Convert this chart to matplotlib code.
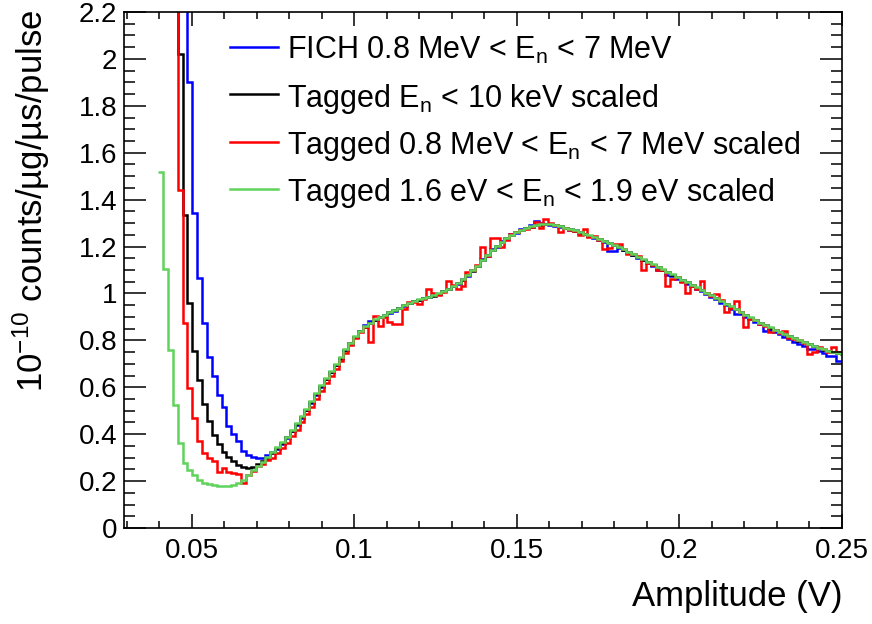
import numpy as np
import matplotlib
matplotlib.use('Agg')
import matplotlib.pyplot as plt
from matplotlib.ticker import MultipleLocator, FuncFormatter

# binning of the amplitude histograms (V)
bin_width = 0.0015
green_first_edge = 0.0397
tagged_first_edge = 0.0442

# FICH 0.8 MeV < En < 7 MeV
fich_fast = [3.5, 3.0, 2.5, 1.90, 1.343, 1.066, 0.872, 0.731, 0.649, 0.568,
             0.514, 0.436, 0.400, 0.372, 0.329, 0.312, 0.302, 0.298, 0.298, 0.310,
             0.325,
             0.338, 0.360, 0.384, 0.412, 0.441, 0.470,
             0.502, 0.534, 0.568, 0.602, 0.634, 0.664, 0.694, 0.722, 0.757, 0.786,
             0.815, 0.840, 0.866, 0.882, 0.885, 0.898, 0.905, 0.918, 0.926, 0.940,
             0.948, 0.958, 0.966, 0.972, 0.981, 0.985, 0.994, 0.998, 1.012, 1.018,
             1.032, 1.042, 1.062, 1.076, 1.100, 1.116, 1.145, 1.160, 1.188, 1.200,
             1.224, 1.234, 1.252, 1.258, 1.275, 1.278, 1.290, 1.310, 1.300, 1.298,
             1.290, 1.288, 1.283, 1.280, 1.272, 1.270, 1.258, 1.255, 1.244, 1.238,
             1.226, 1.220, 1.180, 1.180, 1.195, 1.185, 1.172, 1.165, 1.150, 1.142,
             1.130, 1.118, 1.100, 1.098, 1.078, 1.075, 1.062, 1.055, 1.040, 1.032,
             1.020, 1.010, 0.998, 0.985, 0.976, 0.960, 0.950, 0.935, 0.912, 0.912,
             0.900, 0.890, 0.878, 0.868, 0.841, 0.845, 0.835, 0.826, 0.815, 0.806,
             0.791, 0.786, 0.778, 0.763, 0.765, 0.755, 0.748, 0.734, 0.735, 0.713,
             0.713]

# Tagged En < 10 keV scaled
tagged_slow = [2.80, 2.02, 1.336, 0.959, 0.756, 0.631, 0.528, 0.457, 0.397, 0.358,
               0.322, 0.301, 0.284, 0.270, 0.261, 0.258, 0.262, 0.272, 0.284, 0.298,
               0.318,
               0.340, 0.361, 0.386, 0.414, 0.443, 0.473,
               0.505, 0.537, 0.571, 0.605, 0.637, 0.666, 0.696, 0.726, 0.759, 0.788,
               0.816, 0.840, 0.859, 0.874, 0.888, 0.899, 0.909, 0.919, 0.929, 0.939,
               0.949, 0.959, 0.967, 0.974, 0.980, 0.985, 0.991, 0.999, 1.009, 1.019,
               1.030, 1.044, 1.059, 1.077, 1.097, 1.117, 1.141, 1.162, 1.184, 1.203,
               1.220, 1.235, 1.249, 1.260, 1.270, 1.279, 1.285, 1.290, 1.293, 1.294,
               1.294, 1.290, 1.286, 1.280, 1.274, 1.268, 1.261, 1.254, 1.247, 1.239,
               1.231, 1.224, 1.216, 1.207, 1.197, 1.187, 1.177, 1.166, 1.155, 1.144,
               1.134, 1.123, 1.112, 1.102, 1.091, 1.080, 1.069, 1.058, 1.047, 1.036,
               1.025, 1.014, 1.003, 0.992, 0.980, 0.968, 0.956, 0.944, 0.932, 0.920,
               0.908, 0.897, 0.886, 0.875, 0.864, 0.854, 0.844, 0.835, 0.826, 0.817,
               0.808, 0.799, 0.791, 0.783, 0.775, 0.768, 0.761, 0.755, 0.750, 0.746,
               0.742]

# Tagged 0.8 MeV < En < 7 MeV scaled
tagged_fast = [2.70, 1.441, 0.876, 0.597, 0.471, 0.372, 0.318, 0.300, 0.285, 0.240,
               0.255, 0.240, 0.235, 0.230, 0.190, 0.225, 0.245, 0.265, 0.272, 0.290,
               0.300,
               0.320, 0.340, 0.362, 0.392, 0.420, 0.452,
               0.484, 0.515, 0.548, 0.585, 0.618, 0.648, 0.680, 0.712, 0.745, 0.780,
               0.810, 0.836, 0.855, 0.791, 0.905, 0.862, 0.898, 0.880, 0.870, 0.870,
               0.935, 0.962, 0.962, 0.955, 0.975, 1.019, 1.000, 0.995, 1.005, 1.054,
               1.035, 1.020, 1.030, 1.090, 1.100, 1.120, 1.200, 1.160, 1.235, 1.235,
               1.200, 1.230, 1.255, 1.260, 1.270, 1.275, 1.285, 1.303, 1.280, 1.317,
               1.300, 1.290, 1.260, 1.280, 1.270, 1.265, 1.250, 1.275, 1.240, 1.245,
               1.230, 1.190, 1.195, 1.210, 1.210, 1.190, 1.170, 1.170, 1.160, 1.100,
               1.130, 1.120, 1.100, 1.100, 1.030, 1.060, 1.070, 1.050, 1.000, 1.030,
               1.020, 1.054, 1.000, 0.990, 0.997, 0.970, 0.919, 0.940, 0.969, 0.920,
               0.855, 0.891, 0.885, 0.870, 0.860, 0.834, 0.845, 0.830, 0.840, 0.810,
               0.805, 0.800, 0.790, 0.742, 0.750, 0.770, 0.765, 0.750, 0.770, 0.750,
               0.745]

# Tagged 1.6 eV < En < 1.9 eV scaled
tagged_reso = [1.516, 1.104, 0.760, 0.524, 0.362, 0.277, 0.247, 0.226, 0.205, 0.194,
               0.187, 0.184, 0.181, 0.180, 0.180, 0.183, 0.191, 0.206, 0.227, 0.247,
               0.265, 0.282, 0.302, 0.325, 0.345, 0.365, 0.390, 0.418, 0.447, 0.476,
               0.508, 0.540, 0.574, 0.608, 0.640, 0.668, 0.698, 0.728, 0.762, 0.790,
               0.818, 0.842, 0.860, 0.876, 0.889, 0.900, 0.910, 0.920, 0.930, 0.940,
               0.950, 0.960, 0.968, 0.975, 0.980, 0.986, 0.992, 1.000, 1.010, 1.020,
               1.031, 1.045, 1.060, 1.078, 1.098, 1.118, 1.142, 1.163, 1.185, 1.204,
               1.221, 1.236, 1.250, 1.261, 1.271, 1.280, 1.286, 1.291, 1.294, 1.296,
               1.295, 1.291, 1.287, 1.281, 1.275, 1.269, 1.262, 1.255, 1.248, 1.240,
               1.232, 1.225, 1.217, 1.208, 1.198, 1.188, 1.178, 1.167, 1.156, 1.145,
               1.135, 1.124, 1.113, 1.103, 1.092, 1.081, 1.070, 1.059, 1.048, 1.037,
               1.026, 1.015, 1.004, 0.993, 0.981, 0.969, 0.957, 0.945, 0.933, 0.921,
               0.909, 0.898, 0.887, 0.876, 0.865, 0.855, 0.845, 0.836, 0.827, 0.818,
               0.809, 0.800, 0.792, 0.784, 0.776, 0.769, 0.762, 0.756, 0.751, 0.747,
               0.743]

labels = ['FICH 0.8 MeV < $E_n$ < 7 MeV',
          'Tagged $E_n$ < 10 keV scaled',
          'Tagged 0.8 MeV < $E_n$ < 7 MeV scaled',
          'Tagged 1.6 eV < $E_n$ < 1.9 eV scaled']
colors = ['#0000ff', '#000000', '#ff0000', '#5fd35b']


def bin_edges(first_edge, values):
    return first_edge + bin_width * np.arange(len(values) + 1)


plt.rcParams['font.family'] = ['Liberation Sans', 'DejaVu Sans']
plt.rcParams['mathtext.default'] = 'regular'

fig = plt.figure(figsize=(8.72, 6.24), dpi=100)
ax = fig.add_axes([0.1422, 0.1538, 0.8234, 0.827])

series = [(fich_fast, tagged_first_edge),
          (tagged_slow, tagged_first_edge),
          (tagged_fast, tagged_first_edge),
          (tagged_reso, green_first_edge)]
for (vals, first), col in zip(series, colors):
    ax.stairs(vals, bin_edges(first, vals), baseline=None, color=col, lw=1.8)

ax.set_xlim(0.0292, 0.25)
ax.set_ylim(0, 2.2)

ax.xaxis.set_major_locator(MultipleLocator(0.05))
ax.xaxis.set_minor_locator(MultipleLocator(0.01))
ax.yaxis.set_major_locator(MultipleLocator(0.2))
ax.yaxis.set_minor_locator(MultipleLocator(0.05))
fmt = FuncFormatter(lambda v, _: f'{v:g}')
ax.xaxis.set_major_formatter(fmt)
ax.yaxis.set_major_formatter(fmt)

ax.tick_params(which='both', direction='in', top=True, right=True, width=1.1)
ax.tick_params(axis='x', which='major', length=10, labelsize=20, pad=7)
ax.tick_params(axis='x', which='minor', length=5)
ax.tick_params(axis='y', which='major', length=16, labelsize=20, pad=5)
ax.tick_params(axis='y', which='minor', length=8)
for sp in ax.spines.values():
    sp.set_linewidth(1.2)

ax.set_xlabel('Amplitude (V)', fontsize=25, loc='right')
ax.xaxis.set_label_coords(1.0, -0.10)
ax.set_ylabel('$10^{-10}$ counts/µg/µs/pulse', fontsize=25, loc='top')
ax.yaxis.set_label_coords(-0.100, 1.005)

# legend drawn by hand, no frame
row_line_y = [0.9322, 0.8405, 0.7486, 0.657]
for lab, col, yy in zip(labels, colors, row_line_y):
    ax.plot([0.1476, 0.2145], [yy, yy], color=col, lw=1.8, transform=ax.transAxes)
    ax.text(0.2266, yy, lab, fontsize=22, va='center_baseline', ha='left',
            transform=ax.transAxes)

fig.savefig('out.png', dpi=100)
